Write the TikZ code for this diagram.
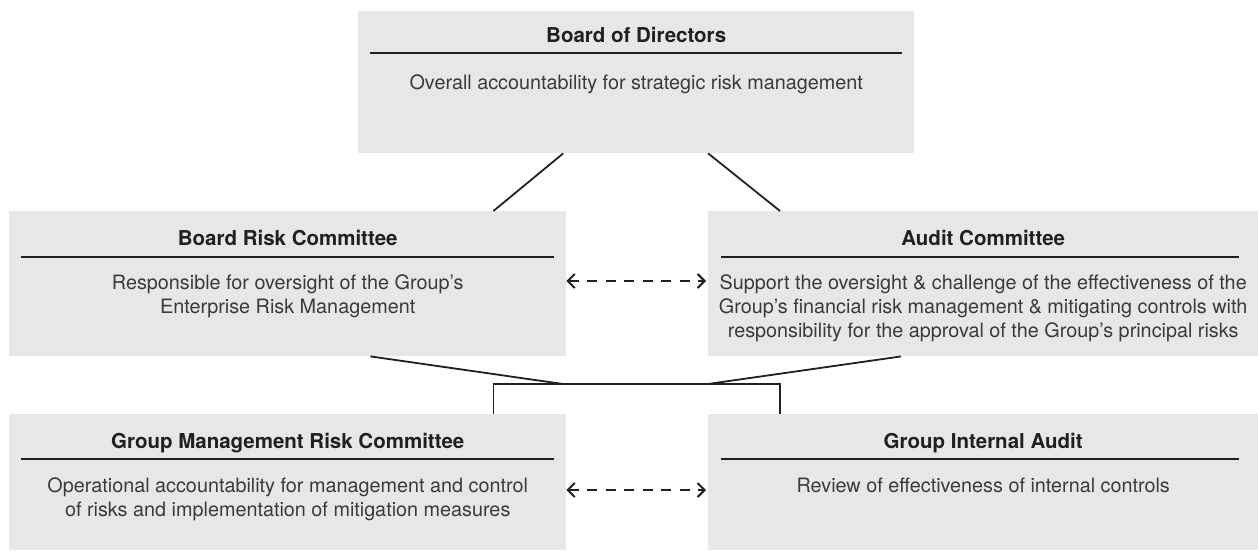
\documentclass[tikz,border=0pt]{standalone}
\usepackage{fontspec}
\setmainfont{TeX Gyre Heros}
\usetikzlibrary{calc,arrows.meta}
\definecolor{boxfill}{HTML}{E6E7E8}
\definecolor{ink}{HTML}{231F20}
\definecolor{bodyink}{HTML}{3A3A3A}
\tikzset{
  box/.style={draw=none, fill=boxfill, rectangle, inner sep=0pt, anchor=north west},
  titletext/.style={inner sep=0pt, anchor=base, text=ink, font=\fontsize{20.5}{24}\selectfont\bfseries},
  bodytext/.style={inner sep=0pt, anchor=base, text=bodyink, align=center, font=\fontsize{19.8}{24}\selectfont},
  sepline/.style={draw=ink, line width=2pt},
  conn/.style={draw=ink, line width=1.8pt},
  darrow/.style={draw=ink, line width=2pt, dash pattern=on 10pt off 8.5pt,
    {Straight Barb[length=7pt,width=14pt,line width=2pt]}-{Straight Barb[length=7pt,width=14pt,line width=2pt]}}
}
\begin{document}
\begin{tikzpicture}[x=1pt,y=-1pt]
\useasboundingbox (0,0) rectangle (1258,550);
% boxes
\node[box, minimum width=556pt, minimum height=142pt] (bod) at (358,11) {};
\node[box, minimum width=557pt, minimum height=145pt] (brc) at (9,211) {};
\node[box, minimum width=550pt, minimum height=145pt] (ac) at (708,211) {};
\node[box, minimum width=557pt, minimum height=136pt] (gmrc) at (9,414) {};
\node[box, minimum width=550pt, minimum height=136pt] (gia) at (708,414) {};
% titles
\node[titletext] (bodt) at ($(bod.north)+(0,31)$) {Board of Directors};
\node[titletext] (brct) at ($(brc.north)+(0,34)$) {Board Risk Committee};
\node[titletext] (act) at ($(ac.north)+(0,34)$) {Audit Committee};
\node[titletext] (gmrct) at ($(gmrc.north)+(0,34)$) {Group Management Risk Committee};
\node[titletext] (giat) at ($(gia.north)+(0,34)$) {Group Internal Audit};
% separator lines
\draw[sepline] ($(bod.north west)+(12,42)$) -- ($(bod.north east)+(-12,42)$);
\draw[sepline] ($(brc.north west)+(12,46)$) -- ($(brc.north east)+(-12,46)$);
\draw[sepline] ($(ac.north west)+(13,46)$) -- ($(ac.north east)+(-19,46)$);
\draw[sepline] ($(gmrc.north west)+(12,45)$) -- ($(gmrc.north east)+(-12,45)$);
\draw[sepline] ($(gia.north west)+(13,45)$) -- ($(gia.north east)+(-19,45)$);
% body texts (base anchor = baseline of last line)
\node[bodytext] (bodb) at ($(bod.north)+(0,78)$) {Overall accountability for strategic risk management};
\node[bodytext] (brcb) at ($(brc.north)+(0,102)$) {Responsible for oversight of the Group’s\\Enterprise Risk Management};
\node[bodytext] (acb) at ($(ac.north)+(0,126)$) {Support the oversight \& challenge of the effectiveness of the\\Group’s financial risk management \& mitigating controls with\\responsibility for the approval of the Group’s principal risks};
\node[bodytext] (gmrcb) at ($(gmrc.north)+(0,102)$) {Operational accountability for management and control\\of risks and implementation of mitigation measures};
\node[bodytext] (giab) at ($(gia.north)+(0,78)$) {Review of effectiveness of internal controls};
% connectors from board
\draw[conn] ($(bod.south)+(-73,0)$) -- ($(brc.north east)+(-73,0)$);
\draw[conn] ($(bod.south)+(72,0)$) -- ($(ac.north west)+(72,0)$);
% lower junction
\coordinate (jl) at (563,384);
\coordinate (jr) at (708,384);
\draw[conn] ($(brc.south east)+(-196,0)$) -- (jl);
\draw[conn] ($(ac.south west)+(193,0)$) -- (jr);
\draw[conn] ($(gmrc.north east)+(-73,0)$) -- ($(gmrc.north east)+(-73,-30)$) -- ($(gia.north west)+(72,-30)$) -- ($(gia.north west)+(72,0)$);
% dashed two-way arrows
\draw[darrow] ($(brc.north east)+(0,70)$) -- ($(ac.north west)+(-2,70)$);
\draw[darrow] ($(gmrc.north east)+(0,76)$) -- ($(gia.north west)+(-2,76)$);
\end{tikzpicture}
\end{document}
